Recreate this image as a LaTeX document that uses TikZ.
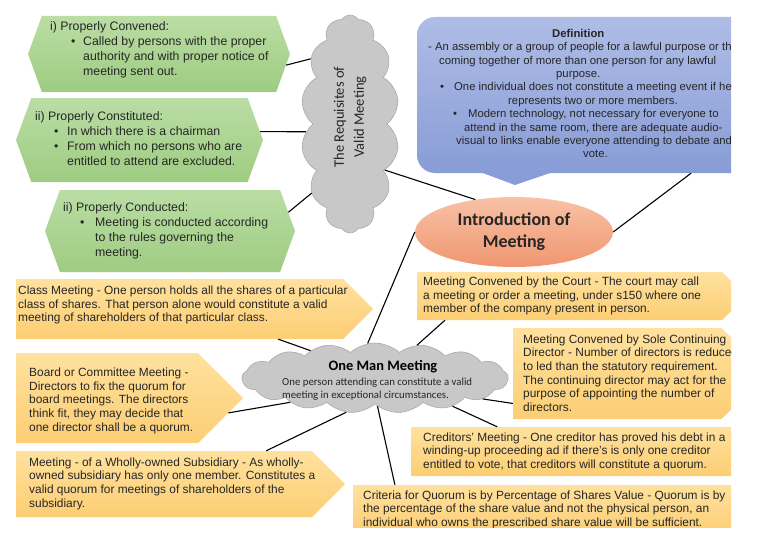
\documentclass[tikz,border=0pt]{standalone}
\usepackage{fontspec}
\setmainfont{Liberation Sans}
\newfontfamily\carlito{Carlito}
\usetikzlibrary{shapes.symbols,shapes.geometric}

\definecolor{greenTop}{RGB}{186,221,164}
\definecolor{greenBot}{RGB}{158,204,130}
\definecolor{yellowTop}{RGB}{255,225,158}
\definecolor{yellowBot}{RGB}{252,206,116}
\definecolor{blueTop}{RGB}{175,189,230}
\definecolor{blueBot}{RGB}{136,156,214}
\definecolor{salmonTop}{RGB}{248,194,166}
\definecolor{salmonBot}{RGB}{240,150,112}
\definecolor{cloudFill}{RGB}{200,200,200}
\definecolor{cloudLine}{RGB}{170,170,170}
\definecolor{textGray}{RGB}{38,38,38}

\newcommand{\bul}[2]{\hspace*{#1}\makebox[#2][l]{\textbullet}}

\tikzset{
  hexbox/.style={signal, signal to=east and west, signal pointer angle=140,
    top color=greenTop, bottom color=greenBot, draw=none, inner sep=0pt},
  notebox/.style={signal, signal to=east, signal pointer angle=90,
    top color=yellowTop, bottom color=yellowBot, draw=none, inner sep=0pt},
  cloudbox/.style={cloud, cloud ignores aspect, fill=cloudFill, draw=cloudLine,
    line width=0.6pt, inner sep=0pt},
  hextext/.style={anchor=base west, align=left, inner sep=0pt, text=textGray,
    font=\fontsize{12.3}{15}\selectfont},
  notetext/.style={anchor=base west, align=left, inner sep=0pt, text=textGray,
    font=\fontsize{11.9}{13.6}\selectfont},
  link/.style={draw=black, line width=1.1pt}
}

\begin{document}
\begin{tikzpicture}[x=1pt,y=-1pt]
\useasboundingbox (0,0) rectangle (768,543);
\begin{scope}
\clip (0,0) rectangle (731,527);

% definition callout
\node[rectangle, rounded corners=18pt, top color=blueTop, bottom color=blueBot,
  minimum width=348pt, minimum height=156pt, inner sep=0pt] (def) at (591,95) {};
\fill[blueBot] (480,172) -- (515,185) -- (553,172) -- cycle;

% requisites
\node[hexbox, minimum width=262pt, minimum height=76pt] (hexA) at (159,54) {};
\node[hexbox, minimum width=247pt, minimum height=84pt] (hexB) at (139.5,140) {};
\node[hexbox, minimum width=250pt, minimum height=82pt] (hexC) at (170,231) {};
\node[cloudbox, cloud puffs=14, cloud puff arc=115,
  minimum width=98pt, minimum height=218pt] (req) at (350,124) {};

% one man meeting notes
\node[notebox, minimum width=357pt, minimum height=60pt] (yA) at (179.5,309) {};
\node[notebox, minimum width=227pt, minimum height=90pt] (yB) at (107,398) {};
\node[notebox, minimum width=329pt, minimum height=66pt] (yC) at (164,484) {};
\node[notebox, minimum width=329pt, minimum height=48pt] (yD) at (569.5,296) {};
\node[notebox, minimum width=254pt, minimum height=91pt] (yE) at (617.25,373.5) {};
\node[notebox, minimum width=349pt, minimum height=49pt] (yF) at (573.25,451.5) {};
\node[notebox, minimum width=427pt, minimum height=50pt] (yG) at (554,510) {};
\node[cloudbox, cloud puffs=17, cloud puff arc=85,
  minimum width=266pt, minimum height=70pt] (omm) at (375,378) {};

\node[ellipse, minimum width=198pt, minimum height=70pt, inner sep=0pt,
  top color=salmonTop, bottom color=salmonBot, align=center, text=textGray,
  font=\carlito\bfseries\fontsize{18}{22}\selectfont] (intro) at (514,232)
  {Introduction of\\Meeting};

% connectors
\draw[link] (hexA.-5) -- (req.121);
\draw[link] (hexB.4) -- (req.190);
\draw[link] (hexC.9) -- (req.241);
\draw[link] (req.-53) -- (intro.140);
\draw[link] (def.-38) -- (intro.east);
\draw[link] (intro.west) -- (omm.102);
\draw[link] (yA.-17) -- (omm.157);
\draw[link] (yB.-7) -- (omm.196);
\draw[link] (yC.18) -- (omm.230);
\draw[link] (yG.171) -- (omm.275);
\draw[link] (yD.191) -- (omm.38);
\draw[link] (omm.-11) -- (yE.196);
\draw[link] (omm.-20) -- (yF.162);

% texts (placed by the baseline of their last line)
\node[anchor=base west, align=left, inner sep=0pt, text=textGray,
  font=\fontsize{11.3}{13.4}\selectfont] (defT) at (428,157.9)
  {\hspace*{124pt}\textbf{Definition}\\
   - An assembly or a group of people for a lawful purpose or the\\
   \hspace*{11pt}coming together of more than one person for any lawful\\
   \hspace*{128pt}purpose.\\
   \bul{12pt}{14pt}One individual does not constitute a meeting event if he\\
   \hspace*{80pt}represents two or more members.\\
   \bul{25pt}{15pt}Modern technology, not necessary for everyone to\\
   \hspace*{36pt}attend in the same room, there are adequate audio-\\
   \hspace*{28pt}visual to links enable everyone attending to debate and\\
   \hspace*{155pt}vote.};

\node[hextext] (hexAT) at (50,75.7)
  {i) Properly Convened:\\
   \bul{21pt}{12pt}Called by persons with the proper\\
   \hspace*{33pt}authority and with proper notice of\\
   \hspace*{33pt}meeting sent out.};
\node[hextext] (hexBT) at (35,165.7)
  {ii) Properly Constituted:\\
   \bul{19pt}{13pt}In which there is a chairman\\
   \bul{19pt}{13pt}From which no persons who are\\
   \hspace*{32pt}entitled to attend are excluded.};
\node[hextext] (hexCT) at (63,256)
  {ii) Properly Conducted:\\
   \bul{17pt}{15pt}Meeting is conducted according\\
   \hspace*{32pt}to the rules governing the\\
   \hspace*{32pt}meeting.};
\node[rotate=90, align=center, text=textGray,
  font=\carlito\fontsize{14.5}{20}\selectfont] (reqT) at (350,117)
  {The Requisites of\\Valid Meeting};

\node[text=black, inner sep=0pt, font=\carlito\bfseries\fontsize{14.4}{17}\selectfont]
  (ommT) at (383,367) {One Man Meeting};
\node[anchor=base west, align=left, inner sep=0pt, text=textGray,
  font=\carlito\fontsize{10.8}{13.2}\selectfont] (ommS) at (282,398.7)
  {One person attending can constitute a valid\\meeting in exceptional circumstances.};

\node[notetext] (yAT) at (18,321.9)
  {Class Meeting - One person holds all the shares of a particular\\
   class of shares. That person alone would constitute a valid\\
   meeting of shareholders of that particular class.};
\node[notetext] (yBT) at (29,431.1)
  {Board or Committee Meeting -\\
   Directors to fix the quorum for\\
   board meetings. The directors\\
   think fit, they may decide that\\
   one director shall be a quorum.};
\node[notetext] (yCT) at (29,507.1)
  {Meeting - of a Wholly-owned Subsidiary - As wholly-\\
   owned subsidiary has only one member. Constitutes a\\
   valid quorum for meetings of shareholders of the\\
   subsidiary.};
\node[notetext] (yDT) at (423,312.9)
  {Meeting Convened by the Court - The court may call\\
   a meeting or order a meeting, under s150 where one\\
   member of the company present in person.};
\node[notetext] (yET) at (523,411.3)
  {Meeting Convened by Sole Continuing\\
   Director - Number of directors is reduced\\
   to led than the statutory requirement.\\
   The continuing director may act for the\\
   purpose of appointing the number of\\
   directors.};
\node[notetext] (yFT) at (423,468.4)
  {Creditors' Meeting - One creditor has proved his debt in a\\
   winding-up proceeding ad if there's is only one creditor\\
   entitled to vote, that creditors will constitute a quorum.};
\node[notetext] (yGT) at (363,526.2)
  {Criteria for Quorum is by Percentage of Shares Value - Quorum is by\\
   the percentage of the share value and not the physical person, an\\
   individual who owns the prescribed share value will be sufficient.};
\end{scope}
\end{tikzpicture}
\end{document}
